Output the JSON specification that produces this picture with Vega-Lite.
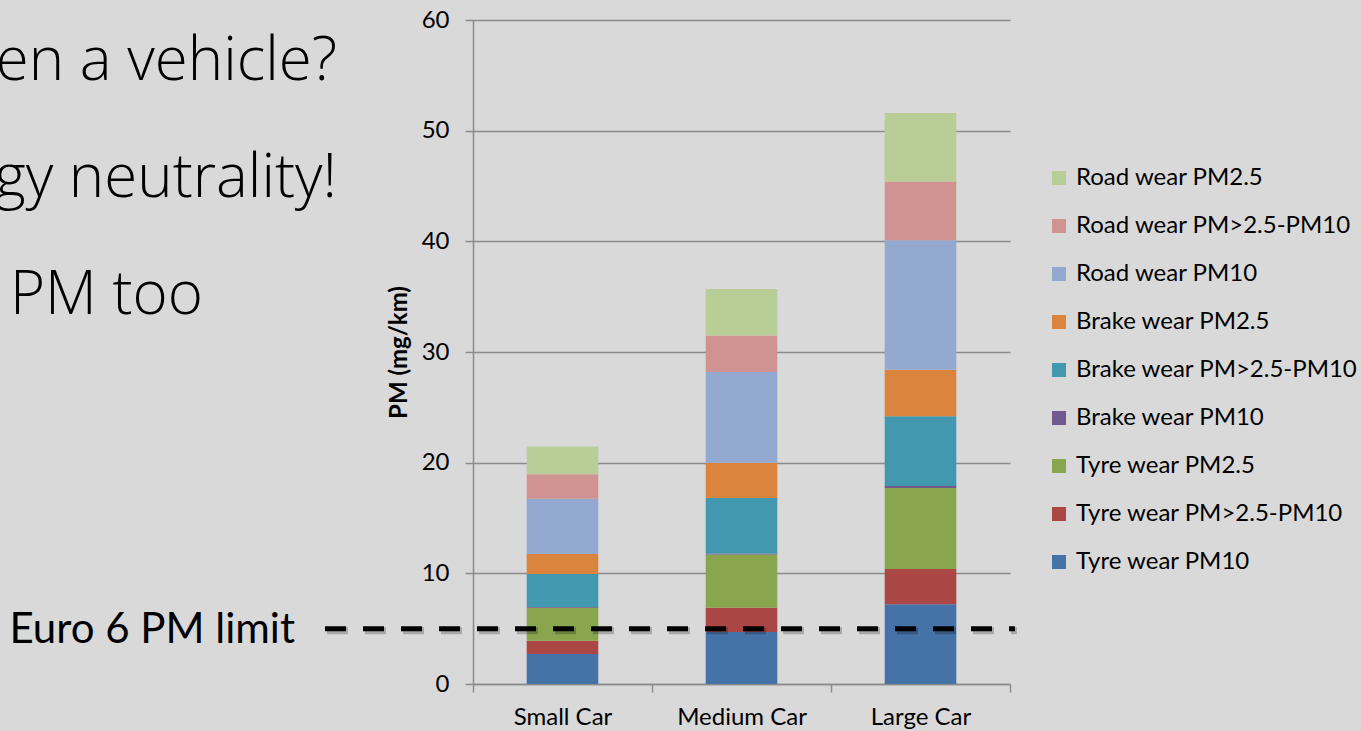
{
  "$schema": "https://vega.github.io/schema/vega-lite/v6.json",
  "width": 537,
  "height": 664,
  "autosize": {"type": "none"},
  "padding": {"left": 473, "top": 20, "right": 351, "bottom": 47},
  "background": "#d9d9d9",
  "config": {"view": {"stroke": null}, "font": "Lato"},
  "datasets": {
    "pm": [
      {"car": "Small Car", "component": "Tyre wear PM10", "pm": 2.7, "layer": 1},
      {"car": "Small Car", "component": "Tyre wear PM>2.5-PM10", "pm": 1.2, "layer": 2},
      {"car": "Small Car", "component": "Tyre wear PM2.5", "pm": 3.0, "layer": 3},
      {"car": "Small Car", "component": "Brake wear PM10", "pm": 0.05, "layer": 4},
      {"car": "Small Car", "component": "Brake wear PM>2.5-PM10", "pm": 3.0, "layer": 5},
      {"car": "Small Car", "component": "Brake wear PM2.5", "pm": 1.8, "layer": 6},
      {"car": "Small Car", "component": "Road wear PM10", "pm": 5.0, "layer": 7},
      {"car": "Small Car", "component": "Road wear PM>2.5-PM10", "pm": 2.2, "layer": 8},
      {"car": "Small Car", "component": "Road wear PM2.5", "pm": 2.5, "layer": 9},
      {"car": "Medium Car", "component": "Tyre wear PM10", "pm": 4.7, "layer": 1},
      {"car": "Medium Car", "component": "Tyre wear PM>2.5-PM10", "pm": 2.2, "layer": 2},
      {"car": "Medium Car", "component": "Tyre wear PM2.5", "pm": 4.8, "layer": 3},
      {"car": "Medium Car", "component": "Brake wear PM10", "pm": 0.1, "layer": 4},
      {"car": "Medium Car", "component": "Brake wear PM>2.5-PM10", "pm": 5.0, "layer": 5},
      {"car": "Medium Car", "component": "Brake wear PM2.5", "pm": 3.2, "layer": 6},
      {"car": "Medium Car", "component": "Road wear PM10", "pm": 8.2, "layer": 7},
      {"car": "Medium Car", "component": "Road wear PM>2.5-PM10", "pm": 3.3, "layer": 8},
      {"car": "Medium Car", "component": "Road wear PM2.5", "pm": 4.2, "layer": 9},
      {"car": "Large Car", "component": "Tyre wear PM10", "pm": 7.2, "layer": 1},
      {"car": "Large Car", "component": "Tyre wear PM>2.5-PM10", "pm": 3.2, "layer": 2},
      {"car": "Large Car", "component": "Tyre wear PM2.5", "pm": 7.3, "layer": 3},
      {"car": "Large Car", "component": "Brake wear PM10", "pm": 0.2, "layer": 4},
      {"car": "Large Car", "component": "Brake wear PM>2.5-PM10", "pm": 6.3, "layer": 5},
      {"car": "Large Car", "component": "Brake wear PM2.5", "pm": 4.2, "layer": 6},
      {"car": "Large Car", "component": "Road wear PM10", "pm": 11.7, "layer": 7},
      {"car": "Large Car", "component": "Road wear PM>2.5-PM10", "pm": 5.3, "layer": 8},
      {"car": "Large Car", "component": "Road wear PM2.5", "pm": 6.2, "layer": 9}
    ],
    "limit": [{"label": "Euro 6 PM limit", "pm": 5}],
    "lines": [
      {"text": "en a vehicle?", "pos": 54.6},
      {"text": "gy neutrality!", "pos": 44.0}
    ],
    "lines2": [{"text": "PM too", "pos": 33.45}]
  },
  "layer": [
    {
      "data": {"name": "pm"},
      "mark": {"type": "bar", "width": {"band": 0.4}},
      "encoding": {
        "x": {
          "field": "car",
          "type": "nominal",
          "sort": ["Small Car", "Medium Car", "Large Car"],
          "scale": {"paddingInner": 0, "paddingOuter": 0},
          "axis": {
            "title": null,
            "labelAngle": 0,
            "labelFontSize": 24,
            "labelColor": "#000000",
            "labelPadding": 13,
            "tickBand": "extent",
            "tickSize": 8,
            "tickColor": "#8c8c8c",
            "domainColor": "#8c8c8c",
            "domainWidth": 1.5,
            "tickWidth": 1.5
          }
        },
        "y": {
          "field": "pm",
          "type": "quantitative",
          "stack": "zero",
          "scale": {"domain": [0, 60], "nice": false},
          "axis": {
            "title": "PM (mg/km)",
            "titleFontSize": 24,
            "titleFontWeight": "bold",
            "titleColor": "#000000",
            "titlePadding": 10,
            "values": [0, 10, 20, 30, 40, 50, 60],
            "labelFontSize": 24,
            "labelColor": "#000000",
            "labelPadding": 16,
            "tickSize": 8,
            "tickColor": "#8c8c8c",
            "tickWidth": 1.5,
            "domainColor": "#8c8c8c",
            "domainWidth": 1.5,
            "grid": true,
            "gridColor": "#8c8c8c",
            "gridWidth": 1.5
          }
        },
        "color": {
          "field": "component",
          "type": "nominal",
          "scale": {
            "domain": ["Road wear PM2.5", "Road wear PM>2.5-PM10", "Road wear PM10", "Brake wear PM2.5", "Brake wear PM>2.5-PM10", "Brake wear PM10", "Tyre wear PM2.5", "Tyre wear PM>2.5-PM10", "Tyre wear PM10"],
            "range": ["#b9cd96", "#d19392", "#93a9cf", "#db843d", "#4198af", "#71588f", "#89a54e", "#aa4643", "#4572a7"]
          },
          "legend": {
            "title": null,
            "orient": "none",
            "legendX": 574,
            "legendY": 146,
            "symbolType": "square",
            "symbolSize": 196,
            "symbolStrokeWidth": 0,
            "symbolOpacity": 1,
            "labelFontSize": 24,
            "labelColor": "#000000",
            "labelOffset": 5,
            "rowPadding": 24,
            "labelLimit": 400
          }
        },
        "order": {"field": "layer", "type": "quantitative", "sort": "ascending"}
      }
    },
    {
      "data": {"name": "limit"},
      "mark": {"type": "rule", "color": "#000000", "opacity": 0.22, "strokeWidth": 7, "strokeDash": [21, 17], "x": -146, "x2": 544},
      "encoding": {"y": {"datum": 4.82}}
    },
    {
      "data": {"name": "limit"},
      "mark": {"type": "rule", "color": "#000000", "strokeWidth": 5, "strokeDash": [21, 17], "x": -148, "x2": 542},
      "encoding": {"y": {"field": "pm", "type": "quantitative"}}
    },
    {
      "data": {"name": "limit"},
      "mark": {"type": "text", "align": "right", "baseline": "alphabetic", "fontSize": 42, "color": "#000000", "x": -178, "dy": 14},
      "encoding": {"y": {"field": "pm", "type": "quantitative"}, "text": {"field": "label"}}
    },
    {
      "data": {"name": "lines"},
      "mark": {"type": "text", "align": "right", "baseline": "alphabetic", "fontSize": 60, "fontWeight": 300, "font": "Open Sans", "color": "#000000", "x": -136},
      "encoding": {"y": {"field": "pos", "type": "quantitative"}, "text": {"field": "text"}}
    },
    {
      "data": {"name": "lines2"},
      "mark": {"type": "text", "align": "left", "baseline": "alphabetic", "fontSize": 60, "fontWeight": 300, "font": "Open Sans", "color": "#000000", "x": -463},
      "encoding": {"y": {"field": "pos", "type": "quantitative"}, "text": {"field": "text"}}
    }
  ]
}
